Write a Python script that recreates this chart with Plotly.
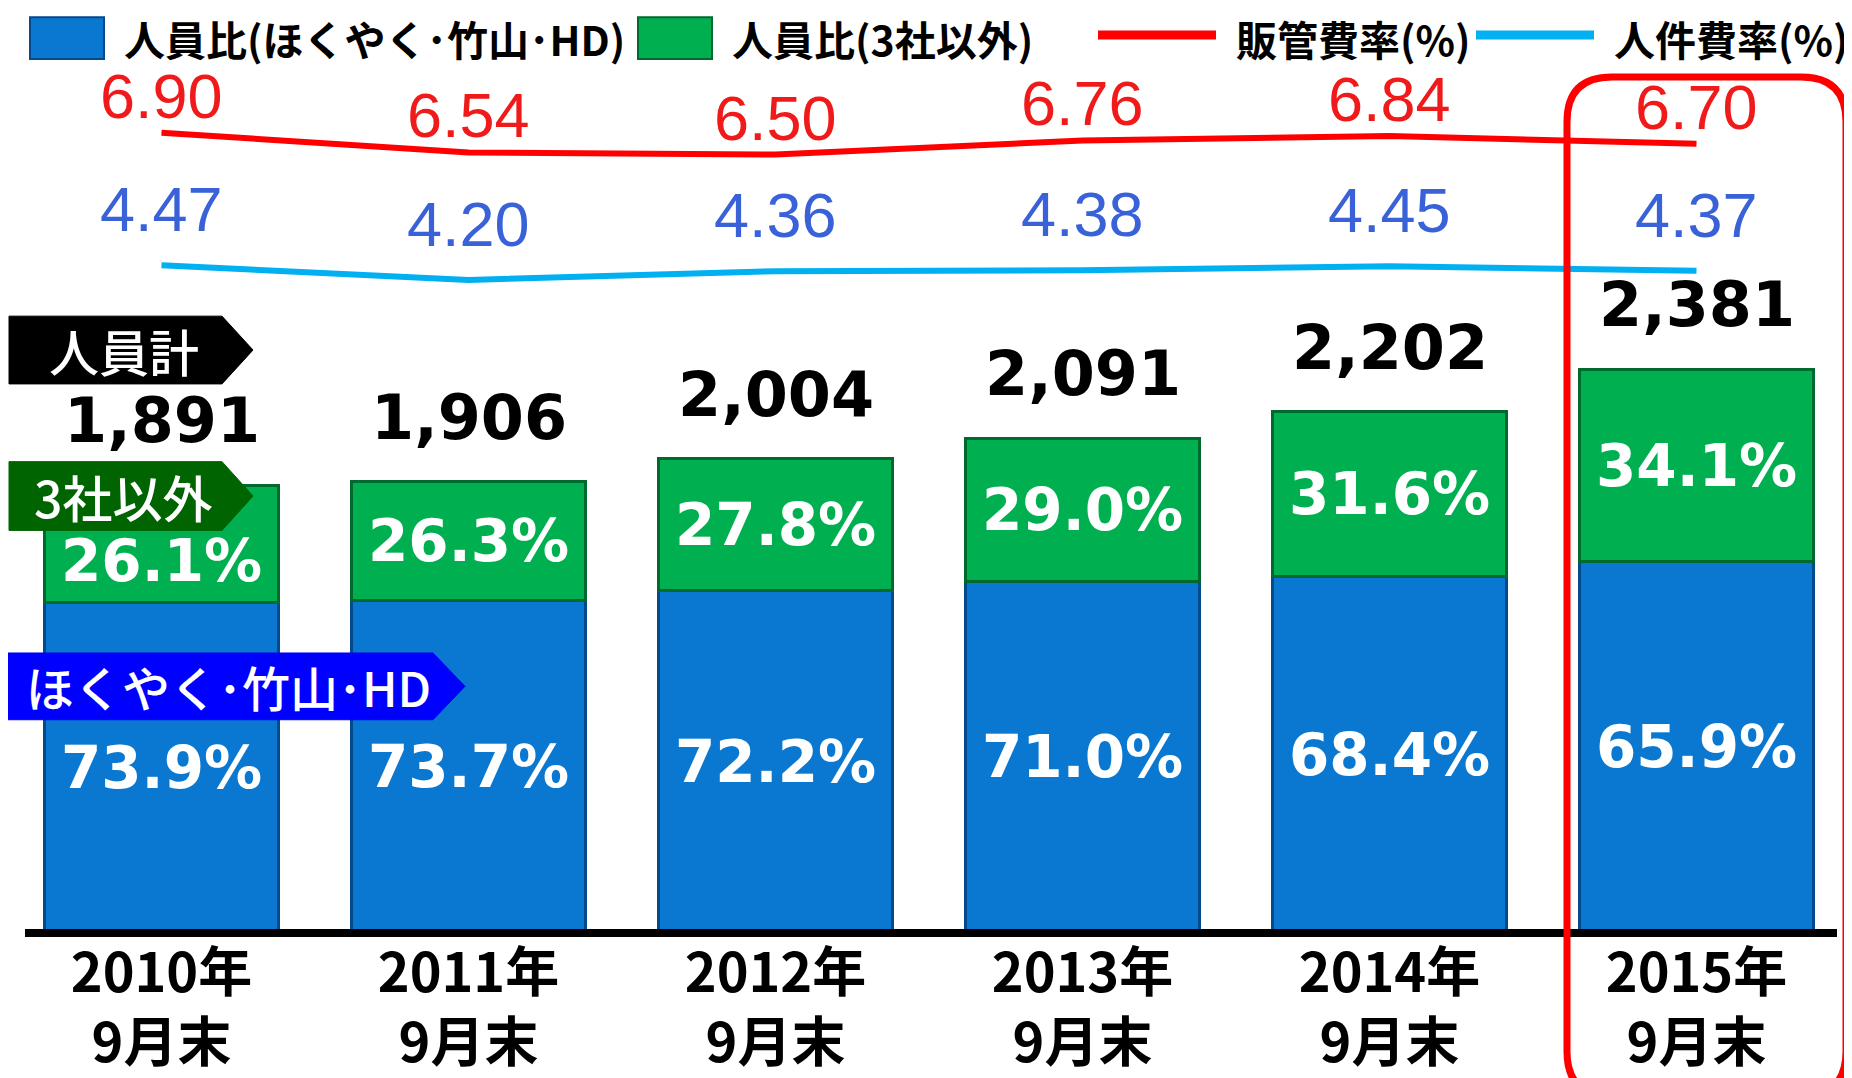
import plotly.graph_objects as go

# ---------------- data ----------------
categories = ["2010年<br>9月末", "2011年<br>9月末", "2012年<br>9月末",
              "2013年<br>9月末", "2014年<br>9月末", "2015年<br>9月末"]
total_staff = [1891, 1906, 2004, 2091, 2202, 2381]
share_hd = [73.9, 73.7, 72.2, 71.0, 68.4, 65.9]        # ほくやく・竹山・HD (%)
share_other = [26.1, 26.3, 27.8, 29.0, 31.6, 34.1]     # 3社以外 (%)
sga_rate = [6.90, 6.54, 6.50, 6.76, 6.84, 6.70]        # 販管費率(%)
personnel_rate = [4.47, 4.20, 4.36, 4.38, 4.45, 4.37]  # 人件費率(%)

# ---------------- layout helpers ----------------
OFF = 8  # default page margin of the html body
FIG_W, FIG_H = 1852 - OFF, 1078 - OFF
ML, MR, MT, MB = 0, 2, 62, 142
PW = FIG_W - ML - MR
PH = FIG_H - MT - MB


def px(x):
    """screen pixel x -> paper x"""
    return (x - OFF - ML) / PW


def py(y):
    """screen pixel y -> paper y"""
    return (FIG_H - MB - (y - OFF)) / PH


CJK = "Noto Sans CJK JP"
BLUE_BAR = "#0a78d0"
BLUE_EDGE = "#034a8a"
GREEN_BAR = "#00b050"
GREEN_EDGE = "#00692e"
RED = "#ff0000"
CYAN = "#00b0f0"

hd_counts = [t * s / 100 for t, s in zip(total_staff, share_hd)]
other_counts = [t * s / 100 for t, s in zip(total_staff, share_other)]

fig = go.Figure()

fig.add_trace(go.Bar(
    x=categories, y=hd_counts, name="人員比(ほくやく・竹山・HD)",
    marker=dict(color=BLUE_BAR, line=dict(color=BLUE_EDGE, width=3)),
    text=[f"{v:.1f}%" for v in share_hd], textposition="inside",
    insidetextanchor="middle", textangle=0,
    textfont=dict(family="DejaVu Sans", size=58, color="white", weight="bold"),
    hoverinfo="skip",
))
fig.add_trace(go.Bar(
    x=categories, y=other_counts, name="人員比(3社以外)",
    marker=dict(color=GREEN_BAR, line=dict(color=GREEN_EDGE, width=3)),
    hoverinfo="skip",
))
fig.add_trace(go.Scatter(
    x=categories, y=sga_rate, yaxis="y2", mode="lines", name="販管費率(%)",
    line=dict(color=RED, width=6), hoverinfo="skip",
))
fig.add_trace(go.Scatter(
    x=categories, y=personnel_rate, yaxis="y2", mode="lines", name="人件費率(%)",
    line=dict(color=CYAN, width=6), hoverinfo="skip",
))

annotations = []
# share labels inside the green segments (first one nudged below the callout)
for i, (c, h, o, s) in enumerate(zip(categories, hd_counts, other_counts, share_other)):
    annotations.append(dict(
        x=c, y=h + o / 2, xref="x", yref="y", text=f"{s:.1f}%", showarrow=False,
        yanchor="middle", yshift=-17 if i == 0 else 0,
        font=dict(family="DejaVu Sans", size=58, color="white", weight="bold")))
# totals above bars
for c, t in zip(categories, total_staff):
    annotations.append(dict(
        x=c, y=t, xref="x", yref="y", text=f"{t:,}", showarrow=False,
        yanchor="bottom", yshift=26,
        font=dict(family="DejaVu Sans", size=62, color="black", weight="bold")))
# rate labels
for c, v in zip(categories, sga_rate):
    annotations.append(dict(
        x=c, y=v, xref="x", yref="y2", text=f"{v:.2f}", showarrow=False,
        yanchor="middle", yshift=37,
        font=dict(family="Liberation Sans", size=63, color="#f01a1a")))
for c, v in zip(categories, personnel_rate):
    annotations.append(dict(
        x=c, y=v, xref="x", yref="y2", text=f"{v:.2f}", showarrow=False,
        yanchor="middle", yshift=56,
        font=dict(family="Liberation Sans", size=63, color="#3a62d8")))

shapes = []

# ----- custom legend -----
LEG_Y = 38
legend_items = [
    ("box", BLUE_BAR, BLUE_EDGE, 30, 104, "人員比(ほくやく･竹山･HD)", 122),
    ("box", GREEN_BAR, GREEN_EDGE, 638, 712, "人員比(3社以外)", 730),
    ("line", RED, RED, 1098, 1216, "販管費率(%)", 1234),
    ("line", CYAN, CYAN, 1476, 1594, "人件費率(%)", 1612),
]
for kind, col, edge, x0, x1, label, tx in legend_items:
    if kind == "box":
        shapes.append(dict(type="rect", xref="paper", yref="paper",
                           x0=px(x0), x1=px(x1), y0=py(LEG_Y - 21), y1=py(LEG_Y + 21),
                           fillcolor=col, line=dict(color=edge, width=2)))
    else:
        shapes.append(dict(type="line", xref="paper", yref="paper",
                           x0=px(x0), x1=px(x1), y0=py(LEG_Y - 3), y1=py(LEG_Y - 3),
                           line=dict(color=col, width=9)))
    annotations.append(dict(x=px(tx), y=py(LEG_Y), xref="paper", yref="paper",
                            text=label, showarrow=False, xanchor="left", yanchor="middle",
                            font=dict(family=CJK, size=41, color="black", weight="bold")))

# ----- callout arrows on the left -----
callouts = [
    ("人員計", "#000000", 9, 222, 253, 317, 385, 50),
    ("3社以外", "#006400", 9, 222, 253, 463, 532, 50),
    ("ほくやく･竹山･HD", "#0000ff", 8, 433, 465, 655, 722, 48),
]
for label, col, x0, x1, tip, y0, y1, fs in callouts:
    ym = (y0 + y1) / 2
    path = (f"M {px(x0)},{py(y0)} L {px(x1)},{py(y0)} L {px(tip)},{py(ym)} "
            f"L {px(x1)},{py(y1)} L {px(x0)},{py(y1)} Z")
    shapes.append(dict(type="path", xref="paper", yref="paper", path=path,
                       fillcolor=col, line=dict(color=col, width=1)))
    annotations.append(dict(x=px((x0 + x1) / 2 + 8), y=py(ym), xref="paper", yref="paper",
                            text=label, showarrow=False, xanchor="center", yanchor="middle",
                            font=dict(family=CJK, size=fs, color="white", weight=500)))

# ----- baseline -----
shapes.append(dict(type="line", xref="paper", yref="paper",
                   x0=px(25), x1=px(1837), y0=py(936), y1=py(936),
                   line=dict(color="black", width=8)))

# ----- red rounded highlight around 2015 -----
rx0, rx1, ry0, ry1, r = 1567, 1846, 77, 1100, 45
hl = (f"M {px(rx0 + r)},{py(ry0)} L {px(rx1 - r)},{py(ry0)} "
      f"Q {px(rx1)},{py(ry0)} {px(rx1)},{py(ry0 + r)} "
      f"L {px(rx1)},{py(ry1 - r)} Q {px(rx1)},{py(ry1)} {px(rx1 - r)},{py(ry1)} "
      f"L {px(rx0 + r)},{py(ry1)} Q {px(rx0)},{py(ry1)} {px(rx0)},{py(ry1 - r)} "
      f"L {px(rx0)},{py(ry0 + r)} Q {px(rx0)},{py(ry0)} {px(rx0 + r)},{py(ry0)} Z")
shapes.append(dict(type="path", xref="paper", yref="paper", path=hl,
                   line=dict(color=RED, width=7)))

# axis scales
Y_PX_PER_UNIT = 0.2375
y1_max = PH / Y_PX_PER_UNIT
R_PX_PER_UNIT = 54.7
y2_top = 6.90 + (133 - OFF - MT) / R_PX_PER_UNIT
y2_bot = y2_top - PH / R_PX_PER_UNIT

fig.update_layout(
    width=FIG_W, height=FIG_H,
    margin=dict(l=ML, r=MR, t=MT, b=MB, pad=0),
    paper_bgcolor="white", plot_bgcolor="white",
    barmode="stack", bargap=0.235,
    showlegend=False,
    xaxis=dict(type="category", range=[-0.5, 5.5], showgrid=False, showline=False,
               zeroline=False, ticks="",
               tickfont=dict(family=CJK, size=54, color="black", weight="bold"),
               ticklabelstandoff=4, fixedrange=True),
    yaxis=dict(range=[0, y1_max], visible=False, showgrid=False, fixedrange=True),
    yaxis2=dict(range=[y2_bot, y2_top], overlaying="y", visible=False,
                showgrid=False, fixedrange=True),
    annotations=annotations,
    shapes=shapes,
)

fig.write_html("out.html")
